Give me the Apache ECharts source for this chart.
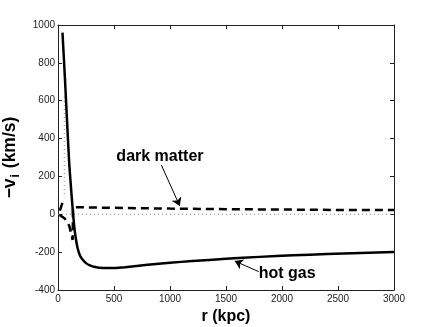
<!DOCTYPE html>
<html>
<head>
<meta charset="utf-8">
<script src="https://cdn.jsdelivr.net/npm/echarts@6/dist/echarts.min.js"></script>
<style>
  html, body { margin: 0; padding: 0; background: #fff; }
  #chart { width: 435px; height: 327px; }
</style>
</head>
<body>
<div id="chart"></div>
<script>
  // radius (kpc) and infall velocity -v_i (km/s)
  const hotGasR = [40, 60, 80, 100, 120, 135, 150, 170, 185, 200, 225, 250, 285, 330, 400, 500, 600, 800, 1000, 1200, 1500, 1800, 2100, 2400, 2700, 3000]
  const hotGasV = [960, 740, 500, 270, 110, 0, -90, -165, -200, -222, -243, -258, -270, -279, -284, -284, -280, -267, -256, -247, -235, -225, -217, -210, -204, -199]

  const darkR = [39, 6, 60, 100, 131, 134, 500, 1000, 1500, 2000, 2500, 3000]
  const darkV = [60, 0, -22, -60, -135, 38, 34, 30, 27, 25, 23, 22]

  const dottedR = [56, 56]
  const dottedV = [620, 90]

  const zeroR = [0, 3000]
  const zeroV = [0, 0]

  const xTicks = { min: 0, max: 3000, interval: 500 }
  const yTicks = { min: -400, max: 1000, interval: 200 }

  // annotations: text pos, arrow start, arrow end in data coords
  const notes = [
    { text: 'dark matter', at: [521, 304], from: [923, 260], to: [1087, 44] },
    { text: 'hot gas', at: [1792, -315], from: [1792, -303], to: [1578, -247] }
  ]

  const pairs = (xs, ys) => xs.map((x, i) => [x, ys[i]])

  const chart = echarts.init(document.getElementById('chart'))

  const tickStyle = { show: true, inside: true, length: 4, lineStyle: { color: '#222' } }
  const lineAxis = { show: true, onZero: false, lineStyle: { color: '#222', width: 1 } }
  const font = 'Liberation Sans, Arial, Helvetica, sans-serif'
  const plain = v => String(v)

  chart.setOption({
    animation: false,
    grid: { left: 58, right: 41, top: 25, bottom: 37, containLabel: false, outerBoundsMode: 'none' },
    xAxis: [{
      type: 'value',
      ...xTicks,
      name: 'r (kpc)',
      nameLocation: 'middle',
      nameGap: 13,
      nameTextStyle: { fontFamily: font, fontWeight: 'bold', fontSize: 16, color: '#000' },
      axisLine: lineAxis,
      axisTick: tickStyle,
      axisLabel: { fontFamily: font, fontSize: 10, color: '#222', margin: 4, formatter: plain },
      splitLine: { show: false }
    }, {
      type: 'value',
      position: 'top',
      ...xTicks,
      axisLine: lineAxis,
      axisTick: tickStyle,
      axisLabel: { show: false },
      splitLine: { show: false }
    }],
    yAxis: [{
      type: 'value',
      ...yTicks,
      name: '−v{sub|i} (km/s)',
      nameLocation: 'middle',
      nameRotate: 90,
      nameGap: 35,
      nameTextStyle: {
        fontFamily: font, fontWeight: 'bold', fontSize: 17.5, color: '#000',
        rich: { sub: { fontFamily: font, fontWeight: 'bold', fontSize: 12, color: '#000', padding: [11, 1, 0, 1] } }
      },
      axisLine: lineAxis,
      axisTick: tickStyle,
      axisLabel: { fontFamily: font, fontSize: 10, color: '#222', margin: 3, formatter: plain },
      splitLine: { show: false }
    }, {
      type: 'value',
      position: 'right',
      ...yTicks,
      axisLine: lineAxis,
      axisTick: tickStyle,
      axisLabel: { show: false },
      splitLine: { show: false }
    }],
    series: [{
      name: 'zero',
      type: 'line',
      data: pairs(zeroR, zeroV),
      symbol: 'none',
      lineStyle: { color: '#888', width: 1, type: [1, 3] }
    }, {
      name: 'dotted',
      type: 'line',
      data: pairs(dottedR, dottedV),
      symbol: 'none',
      lineStyle: { color: '#888', width: 1, type: [1, 3] }
    }, {
      name: 'dark matter',
      type: 'line',
      data: pairs(darkR, darkV),
      symbol: 'none',
      lineStyle: { color: '#000', width: 2.5, type: [8, 5] },
      markLine: {
        silent: true,
        symbol: ['none', 'arrow'],
        symbolSize: 8,
        label: { show: false },
        lineStyle: { color: '#000', width: 1, type: 'solid' },
        data: notes.map(n => [{ coord: n.from }, { coord: n.to }])
      }
    }, {
      name: 'hot gas',
      type: 'line',
      data: pairs(hotGasR, hotGasV),
      symbol: 'none',
      smooth: 0.15,
      lineStyle: { color: '#000', width: 2.5 }
    }]
  })

  // text labels of the annotations
  chart.setOption({
    graphic: notes.map(n => {
      const p = chart.convertToPixel({ gridIndex: 0 }, n.at)
      return {
        type: 'text',
        x: p[0],
        y: p[1],
        style: {
          text: n.text,
          font: 'bold 16px ' + font,
          fill: '#000',
          verticalAlign: 'middle',
          align: 'left'
        }
      }
    })
  })
</script>
</body>
</html>
